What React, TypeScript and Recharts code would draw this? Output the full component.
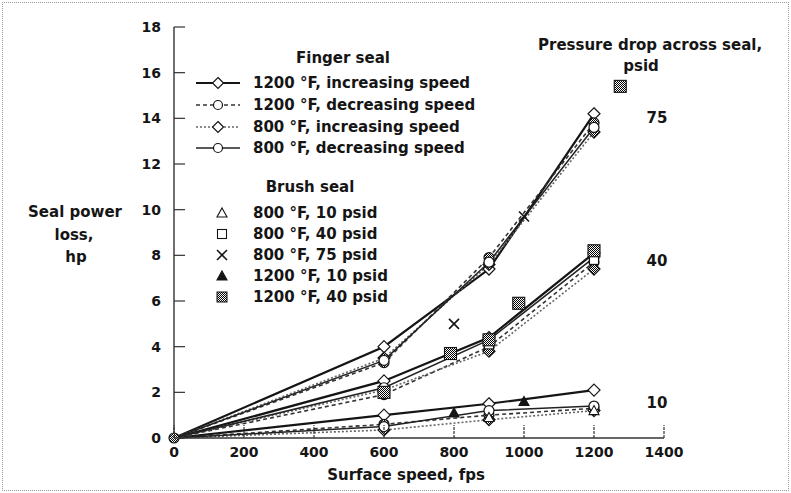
import React from "react";
import { ComposedChart, Line, Scatter, XAxis, YAxis } from "recharts";

// surface speed (fps) at which finger seal was run
const speeds = [0, 600, 900, 1200];

// finger seal power loss, hp — one array per pressure drop (75 / 40 / 10 psid)
const f1200Inc75 = [0, 4.0, 7.4, 14.2];
const f1200Inc40 = [0, 2.5, 4.4, 8.1];
const f1200Inc10 = [0, 1.0, 1.5, 2.1];
const f1200Dec75 = [0, 3.3, 7.9, 13.8];
const f1200Dec40 = [0, 1.9, 4.0, 7.7];
const f1200Dec10 = [0, 0.6, 1.0, 1.3];
const f800Inc75 = [0, 3.5, 7.6, 13.4];
const f800Inc40 = [0, 2.1, 3.8, 7.4];
const f800Inc10 = [0, 0.35, 0.8, 1.2];
const f800Dec75 = [0, 3.4, 7.7, 13.6];
const f800Dec40 = [0, 2.2, 4.3, 7.9];
const f800Dec10 = [0, 0.5, 1.2, 1.4];

// brush seal points
const b800p10Speed = [900, 1200];
const b800p10Loss = [0.9, 1.2];
const b800p40Speed = [900, 1200];
const b800p40Loss = [4.1, 7.8];
const b800p75Speed = [800, 1000];
const b800p75Loss = [5.0, 9.7];
const b1200p10Speed = [800, 1000];
const b1200p10Loss = [1.1, 1.6];
const b1200p40Speed = [600, 790, 900, 985, 1200, 1275];
const b1200p40Loss = [2.0, 3.7, 4.3, 5.9, 8.2, 15.4];

const xTicks = [0, 200, 400, 600, 800, 1000, 1200, 1400];
const yTicks = [0, 2, 4, 6, 8, 10, 12, 14, 16, 18];

const pressureLabels = ["75", "40", "10"];

const FONT = "'DejaVu Sans', 'Liberation Sans', Arial, sans-serif";
const INK = "#151515";

const zip = (xs: number[], ys: number[]) => xs.map((x, i) => ({ x, y: ys[i] }));

type DotKind = "diamond" | "circle";

const makeDot = (kind: DotKind, fill: string, showOrigin: boolean) => (props: any) => {
  const { cx, cy, index } = props;
  if (cx == null || cy == null || (index === 0 && !showOrigin)) return <g key={`d${index}`} />;
  if (kind === "diamond") {
    const r = 6;
    return (
      <polygon
        key={`d${index}`}
        points={`${cx},${cy - r} ${cx + r},${cy} ${cx},${cy + r} ${cx - r},${cy}`}
        fill={fill}
        stroke={INK}
        strokeWidth={1.2}
      />
    );
  }
  return <circle key={`d${index}`} cx={cx} cy={cy} r={5} fill={fill} stroke={INK} strokeWidth={1.2} />;
};

const fingerSeries = [
  { name: "1200 °F, increasing speed", sets: [f1200Inc75, f1200Inc40, f1200Inc10], kind: "diamond" as DotKind, fill: "#fff", stroke: INK, width: 2.2, dash: undefined, origin: false },
  { name: "1200 °F, decreasing speed", sets: [f1200Dec75, f1200Dec40, f1200Dec10], kind: "circle" as DotKind, fill: "url(#dither)", stroke: "#333", width: 1.6, dash: "4 3", origin: true },
  { name: "800 °F, increasing speed", sets: [f800Inc75, f800Inc40, f800Inc10], kind: "diamond" as DotKind, fill: "url(#dither)", stroke: "#666", width: 1.6, dash: "2 2", origin: false },
  { name: "800 °F, decreasing speed", sets: [f800Dec75, f800Dec40, f800Dec10], kind: "circle" as DotKind, fill: "#fff", stroke: "#222", width: 1.5, dash: undefined, origin: false },
];

const XShape = (props: any) => {
  const { cx, cy } = props;
  const r = 5;
  return (
    <g stroke={INK} strokeWidth={1.6}>
      <line x1={cx - r} y1={cy - r} x2={cx + r} y2={cy + r} />
      <line x1={cx - r} y1={cy + r} x2={cx + r} y2={cy - r} />
    </g>
  );
};

const triShape = (fill: string) => (props: any) => {
  const { cx, cy } = props;
  const r = 5;
  return <polygon points={`${cx},${cy - r} ${cx + r},${cy + r * 0.8} ${cx - r},${cy + r * 0.8}`} fill={fill} stroke={INK} strokeWidth={1.1} />;
};

const sqShape = (fill: string, s: number) => (props: any) => {
  const { cx, cy } = props;
  return <rect x={cx - s / 2} y={cy - s / 2} width={s} height={s} fill={fill} stroke={INK} strokeWidth={1.1} />;
};

const brushSeries = [
  { name: "800 °F, 10 psid", data: zip(b800p10Speed, b800p10Loss), shape: triShape("#fff") },
  { name: "800 °F, 40 psid", data: zip(b800p40Speed, b800p40Loss), shape: sqShape("#fff", 9) },
  { name: "800 °F, 75 psid", data: zip(b800p75Speed, b800p75Loss), shape: XShape },
  { name: "1200 °F, 10 psid", data: zip(b1200p10Speed, b1200p10Loss), shape: triShape(INK) },
  { name: "1200 °F, 40 psid", data: zip(b1200p40Speed, b1200p40Loss), shape: sqShape("url(#dither)", 12) },
];

const XTick = (props: any) => {
  const { x, y, payload } = props;
  return (
    <g>
      <line x1={x} x2={x} y1={y} y2={y - 13} stroke="#333" strokeWidth={1.2} strokeDasharray="3 1" />
      <text x={x} y={y + 19} textAnchor="middle" fontFamily={FONT} fontWeight="bold" fontSize={14} fill={INK}>
        {payload.value}
      </text>
    </g>
  );
};

const YTick = (props: any) => {
  const { x, y, payload } = props;
  return (
    <g>
      <line x1={x} x2={x + 11} y1={y} y2={y} stroke="#333" strokeWidth={1.2} />
      <text x={x - 13} y={y + 5} textAnchor="end" fontFamily={FONT} fontWeight="bold" fontSize={14} fill={INK}>
        {payload.value}
      </text>
    </g>
  );
};

const txt: React.CSSProperties = {
  position: "absolute",
  fontFamily: FONT,
  fontWeight: "bold",
  fontSize: 15,
  color: INK,
  whiteSpace: "nowrap",
  lineHeight: 1,
};

const Centered = ({ x, y, children, size = 15 }: { x: number; y: number; children: React.ReactNode; size?: number }) => (
  <div style={{ ...txt, fontSize: size, left: x, top: y, transform: "translate(-50%, -50%)" }}>{children}</div>
);

const LeftText = ({ x, y, children }: { x: number; y: number; children: React.ReactNode }) => (
  <div style={{ ...txt, left: x, top: y, transform: "translateY(-50%)" }}>{children}</div>
);

const fingerRows = [83, 105, 127, 148];
const brushRows = [213, 234, 255, 276, 297];
const pressureRows = [118, 261, 403];

const LegendLineIcon = ({ i }: { i: number }) => {
  const s = fingerSeries[i];
  return (
    <svg width={44} height={14} style={{ position: "absolute", left: 196, top: fingerRows[i] - 7 }}>
      <line x1={0} x2={44} y1={7} y2={7} stroke={s.stroke} strokeWidth={s.width} strokeDasharray={s.dash} />
      {s.kind === "diamond" ? (
        <polygon points="22,1.5 27.5,7 22,12.5 16.5,7" fill="#fff" stroke={INK} strokeWidth={1.2} />
      ) : (
        <circle cx={22} cy={7} r={4.5} fill="#fff" stroke={INK} strokeWidth={1.2} />
      )}
    </svg>
  );
};

const LegendMarkIcon = ({ i }: { i: number }) => {
  const s = brushSeries[i];
  const Shape = s.shape as any;
  return (
    <svg width={16} height={16} style={{ position: "absolute", left: 214, top: brushRows[i] - 8 }}>
      <defs>
        <pattern id={`ld${i}`} width={2} height={2} patternUnits="userSpaceOnUse">
          <rect width={2} height={2} fill="#fff" />
          <rect width={1} height={1} fill="#000" />
          <rect x={1} y={1} width={1} height={1} fill="#000" />
        </pattern>
      </defs>
      {i === 4 ? (
        <rect x={3} y={3} width={10} height={10} fill={`url(#ld${i})`} stroke={INK} strokeWidth={1} />
      ) : (
        <Shape cx={8} cy={8} />
      )}
    </svg>
  );
};

export default function App() {
  return (
    <div style={{ position: "absolute", left: 0, top: 0, width: 791, height: 493, background: "#fff" }}>
      <div style={{ position: "absolute", left: 2, top: 2, width: 785, height: 487, border: "1px dotted #9a9a9a" }} />
      <ComposedChart
        width={791}
        height={493}
        margin={{ top: 27, right: 127, bottom: 25, left: 114 }}
      >
        <defs>
          <pattern id="dither" width={2} height={2} patternUnits="userSpaceOnUse">
            <rect width={2} height={2} fill="#fff" />
            <rect width={1} height={1} fill="#000" />
            <rect x={1} y={1} width={1} height={1} fill="#000" />
          </pattern>
        </defs>
        <XAxis
          type="number"
          dataKey="x"
          domain={[0, 1400]}
          ticks={xTicks}
          height={30}
          tickSize={0}
          tickMargin={0}
          tick={<XTick />}
          axisLine={{ stroke: "#333", strokeWidth: 1.4 }}
          tickLine={false}
          allowDuplicatedCategory={false}
        />
        <YAxis
          type="number"
          dataKey="y"
          domain={[0, 18]}
          ticks={yTicks}
          width={60}
          tickSize={0}
          tickMargin={0}
          tick={<YTick />}
          axisLine={{ stroke: "#333", strokeWidth: 1.4 }}
          tickLine={false}
        />
        {fingerSeries.flatMap((s, si) =>
          s.sets.map((vals, pi) => (
            <Line
              key={`f${si}-${pi}`}
              data={zip(speeds, vals)}
              dataKey="y"
              type="linear"
              stroke={s.stroke}
              strokeWidth={s.width}
              strokeDasharray={s.dash}
              dot={makeDot(s.kind, s.fill, s.origin && pi === 0)}
              activeDot={false}
              isAnimationActive={false}
              legendType="none"
            />
          ))
        )}
        {brushSeries.map((s, i) => (
          <Scatter key={`b${i}`} data={s.data} dataKey="y" shape={s.shape} isAnimationActive={false} legendType="none" />
        ))}
      </ComposedChart>

      {/* axis titles */}
      <Centered x={75} y={212}>Seal power</Centered>
      <Centered x={74} y={235}>loss,</Centered>
      <Centered x={76} y={257}>hp</Centered>
      <Centered x={406} y={475}>Surface speed, fps</Centered>

      {/* legend */}
      <Centered x={343} y={58}>Finger seal</Centered>
      {fingerSeries.map((s, i) => (
        <React.Fragment key={`fl${i}`}>
          <LegendLineIcon i={i} />
          <LeftText x={253} y={fingerRows[i]}>{s.name}</LeftText>
        </React.Fragment>
      ))}
      <Centered x={310} y={187}>Brush seal</Centered>
      {brushSeries.map((s, i) => (
        <React.Fragment key={`bl${i}`}>
          <LegendMarkIcon i={i} />
          <LeftText x={253} y={brushRows[i]}>{s.name}</LeftText>
        </React.Fragment>
      ))}

      {/* pressure annotation */}
      <LeftText x={538} y={45}>Pressure drop across seal,</LeftText>
      <Centered x={641} y={66}>psid</Centered>
      {pressureLabels.map((p, i) => (
        <Centered key={p} x={657} y={pressureRows[i]}>{p}</Centered>
      ))}
    </div>
  );
}
